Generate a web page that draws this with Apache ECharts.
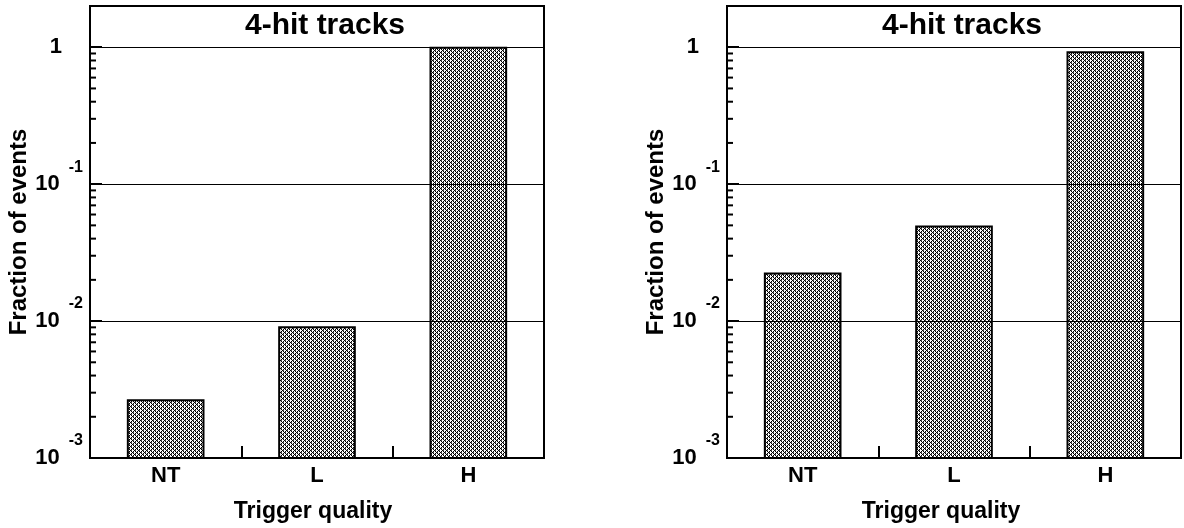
<!DOCTYPE html>
<html>
<head>
<meta charset="utf-8">
<script src="https://cdn.jsdelivr.net/npm/echarts@6/dist/echarts.min.js"></script>
<style>
  html, body { margin: 0; padding: 0; background: #fff; }
  #chart { width: 1184px; height: 528px; }
</style>
</head>
<body>
<div id="chart"></div>
<script>
// ---- data ----
const categories = ['NT', 'L', 'H'];
const leftValues = [0.00264, 0.0090, 0.99];
const rightValues = [0.0223, 0.049, 0.92];
const panelTitle = '4-hit tracks';
const xAxisTitle = 'Trigger quality';
const yAxisTitle = 'Fraction of events';
const yMin = 0.001;
const yMax = 2;
// minor tick positions (2..9 x each decade)
const minorTickValues = [];
[0.001, 0.01, 0.1].forEach(function (d) {
  for (let m = 2; m <= 9; m++) minorTickValues.push(+(m * d).toPrecision(3));
});

// ---- style helpers ----
const FONT = '"Liberation Sans", Arial, Helvetica, sans-serif';

function makePattern() {
  const c = document.createElement('canvas');
  c.width = 4; c.height = 4;
  const ctx = c.getContext('2d');
  ctx.fillStyle = '#ffffff';
  ctx.fillRect(0, 0, 4, 4);
  for (let x = 0; x < 4; x++) {
    for (let y = 0; y < 4; y++) {
      const s = (x + y) % 4, d = ((x - y) % 4 + 4) % 4;
      if (s === 0 || d === 0) {
        ctx.fillStyle = '#000000';
        ctx.fillRect(x, y, 1, 1);
      } else if (s === 1 && d === 1) {
        ctx.fillStyle = '#555555';
        ctx.fillRect(x, y, 1, 1);
      }
    }
  }
  return c;
}
const pattern = { image: makePattern(), repeat: 'repeat' };

function yLabel(v) {
  const e = Math.round(Math.log10(v));
  if (Math.abs(v - Math.pow(10, e)) > 1e-9 * Math.pow(10, e)) return '';
  if (e === 0) return '{one|1}';
  return '{b|10}{s|' + e + '}';
}

const grids = [
  { left: 90, top: 6, width: 454, height: 454 },
  { left: 727, top: 6, width: 454, height: 453 }
];
const xNamePad = [8, 26];

function barRenderItem(params, api) {
  const idx = api.value(0);
  const top = api.coord([idx, api.value(1)]);
  const bottom = api.coord([idx, yMin]);
  const w = api.size([1, 0])[0] * 0.5;
  return {
    type: 'rect',
    shape: { x: top[0] - w / 2, y: top[1], width: w, height: bottom[1] - top[1] },
    style: { fill: pattern, stroke: '#000', lineWidth: 2 }
  };
}

const option = {
  animation: false,
  backgroundColor: '#ffffff',
  textStyle: { fontFamily: FONT },
  title: grids.map(function (g) {
    return {
      text: panelTitle,
      left: g.left + g.width / 2 + 3,
      top: 6,
      textAlign: 'center',
      textStyle: { fontFamily: FONT, fontWeight: 'bold', fontSize: 30, color: '#000' }
    };
  }),
  grid: grids.map(function (g) {
    return Object.assign({ show: true, borderColor: '#000', borderWidth: 2, backgroundColor: 'transparent' }, g);
  }),
  xAxis: grids.map(function (g, i) {
    return {
      type: 'category',
      gridIndex: i,
      data: categories,
      boundaryGap: true,
      axisLine: { show: true, lineStyle: { color: '#000', width: 2 } },
      axisTick: { show: true, inside: true, length: 12, lineStyle: { color: '#000', width: 2 } },
      axisLabel: { margin: 7, color: '#000', fontFamily: FONT, fontWeight: 'bold', fontSize: 22 },
      name: xAxisTitle,
      nameLocation: 'middle',
      nameGap: 42,
      nameTextStyle: { color: '#000', fontFamily: FONT, fontWeight: 'bold', fontSize: 23, padding: [0, xNamePad[i], 0, 0] },
      splitLine: { show: false }
    };
  }),
  yAxis: grids.map(function (g, i) {
    return {
      type: 'log',
      logBase: 10,
      gridIndex: i,
      min: yMin,
      max: yMax,
      z: 5,
      axisLine: { show: true, lineStyle: { color: '#000', width: 2 } },
      axisTick: { show: true, inside: true, length: 12, lineStyle: { color: '#000', width: 2 } },
      minorTick: { show: false },
      splitLine: { show: true, lineStyle: { color: '#000', width: 1 } },
      axisLabel: {
        margin: 7,
        color: '#000',
        formatter: yLabel,
        showMinLabel: true,
        showMaxLabel: true,
        rich: {
          b: { fontFamily: FONT, fontWeight: 'bold', fontSize: 22, color: '#000' },
          s: { fontFamily: FONT, fontWeight: 'bold', fontSize: 16, color: '#000', padding: [0, 0, 34, 9] },
          one: { fontFamily: FONT, fontWeight: 'bold', fontSize: 22, color: '#000', padding: [0, 21, 0, 0] }
        }
      },
      name: yAxisTitle,
      nameLocation: 'middle',
      nameGap: 52,
      nameTextStyle: { color: '#000', fontFamily: FONT, fontWeight: 'bold', fontSize: 24 }
    };
  }),
  series: [leftValues, rightValues].map(function (vals, i) {
    return {
      type: 'custom', xAxisIndex: i, yAxisIndex: i, silent: true, z: 2,
      data: vals.map(function (v, k) { return [k, v]; }),
      encode: { x: 0, y: 1 },
      renderItem: barRenderItem
    };
  }).concat([0, 1].map(function (i) {
    return {
      type: 'custom', xAxisIndex: i, yAxisIndex: i, silent: true, z: 6,
      data: minorTickValues.map(function (v) { return [0, v]; }),
      encode: { x: 0, y: 1 },
      renderItem: function (params, api) {
        const y = api.coord([0, api.value(1)])[1];
        const x0 = params.coordSys.x;
        return {
          type: 'line',
          shape: { x1: x0, y1: y, x2: x0 + 6, y2: y },
          style: { stroke: '#000', lineWidth: 2 }
        };
      }
    };
  }))
};

const chart = echarts.init(document.getElementById('chart'), null, { renderer: 'canvas' });
chart.setOption(option);
</script>
</body>
</html>
